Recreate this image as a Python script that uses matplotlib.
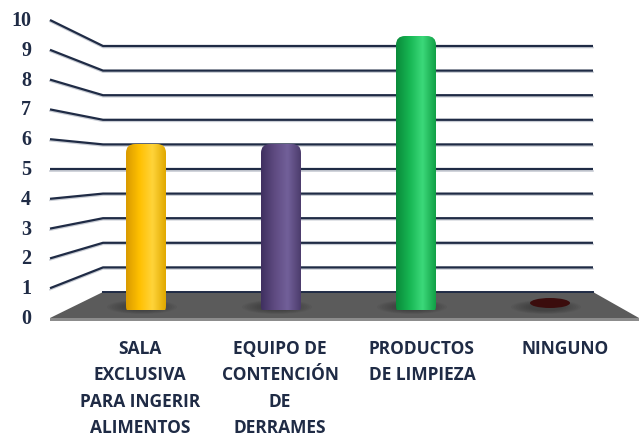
import numpy as np
import matplotlib.pyplot as plt
from matplotlib.patches import Polygon, Ellipse, FancyBboxPatch
from matplotlib.colors import LinearSegmentedColormap

categories = ["SALA\nEXCLUSIVA\nPARA INGERIR\nALIMENTOS",
              "EQUIPO DE\nCONTENCIÓN\nDE\nDERRAMES",
              "PRODUCTOS\nDE LIMPIEZA",
              "NINGUNO"]
values = [6, 6, 10, 0]
ticks = list(range(0, 11))
bar_colors = [["#d99a00", "#ffc000", "#ffd43a", "#e0a800"],
              ["#3f3060", "#5e4a80", "#72609a", "#4c3c6c"],
              ["#0a8a3a", "#16b552", "#3cd97a", "#11a046"]]
zero_color = "#3b0d0d"

ink = "#1f2b45"

# pseudo-3d geometry in pixel space
W, H = 639, 439
front_x, back_x0, back_x1, right_x = 50, 103, 593, 639
front_y0, front_step = 319, 29.8
back_y0, back_step = 293, 24.6
mid_y0, mid_step = 307, 27.0
centers = [146, 281, 416, 550]
bar_w = 40


def yfront(v):
    return front_y0 - front_step * v


def yback(v):
    return back_y0 - back_step * v


def ymid(v):
    return mid_y0 - mid_step * v


fig = plt.figure(figsize=(W / 100, H / 100), dpi=100)
ax = fig.add_axes([0, 0, 1, 1])
ax.set_xlim(0, W)
ax.set_ylim(H, 0)
ax.axis("off")

# wall gridlines
for v in ticks[1:]:
    xs = [front_x, back_x0, back_x1]
    ys = [yfront(v), yback(v), yback(v)]
    ax.plot(xs, [y + 1.5 for y in ys], color="#c8ccd4", lw=1.2, zorder=1)
    ax.plot(xs, ys, color=ink, lw=1.6, zorder=2, solid_capstyle="butt")

# floor slab
ax.add_patch(Polygon([(front_x, front_y0 + 3), (right_x, front_y0 + 3),
                      (right_x, front_y0), (front_x, front_y0)],
                     closed=True, fc="#8c8c8c", ec="none", zorder=3))
ax.add_patch(Polygon([(front_x, front_y0), (back_x0, back_y0),
                      (back_x1, back_y0), (right_x, front_y0)],
                     closed=True, fc="#5b5b5b", ec="none", zorder=3))
ax.plot([back_x0, back_x1], [back_y0, back_y0], color=ink, lw=1.4, zorder=3)

# soft shadows on the floor
for c in centers:
    for k in range(8):
        ax.add_patch(Ellipse((c - 4, ymid(0) + 1), 70 - 5 * k, 14 - k,
                             fc="#2e2e2e", ec="none", alpha=0.08, zorder=4))

ticks_text = dict(ha="right", va="center", fontsize=14.5, fontweight="bold",
                  family="Liberation Serif", color=ink)
for v in ticks:
    ax.text(31, yfront(v), str(v), **ticks_text)

# cylinders
for c, v, cols in zip(centers, values, bar_colors):
    top = ymid(v)
    bot = ymid(0)
    if v == 0:
        continue
    cmap = LinearSegmentedColormap.from_list("cyl", cols)
    grad = np.linspace(0, 1, 200)[None, :]
    im = ax.imshow(grad, cmap=cmap, extent=[c - bar_w / 2, c + bar_w / 2, bot + 4, top],
                   aspect="auto", zorder=5, interpolation="bicubic")
    clip = FancyBboxPatch((c - bar_w / 2 + 9, top + 9), bar_w - 18, (bot - top) - 9,
                          boxstyle="round,pad=9", transform=ax.transData,
                          fc="none", ec="none")
    ax.add_patch(clip)
    im.set_clip_path(clip)

ax.add_patch(Ellipse((centers[3], ymid(0) - 3), 40, 10, fc=zero_color, ec="none", zorder=5))

for c, lab in zip([140, 280, 422, 565], categories):
    ax.text(c, 340, lab, ha="center", va="top", fontsize=12.5, fontweight="bold",
            family="Open Sans", color=ink, linespacing=1.6)

fig.savefig("out.png", dpi=100)
